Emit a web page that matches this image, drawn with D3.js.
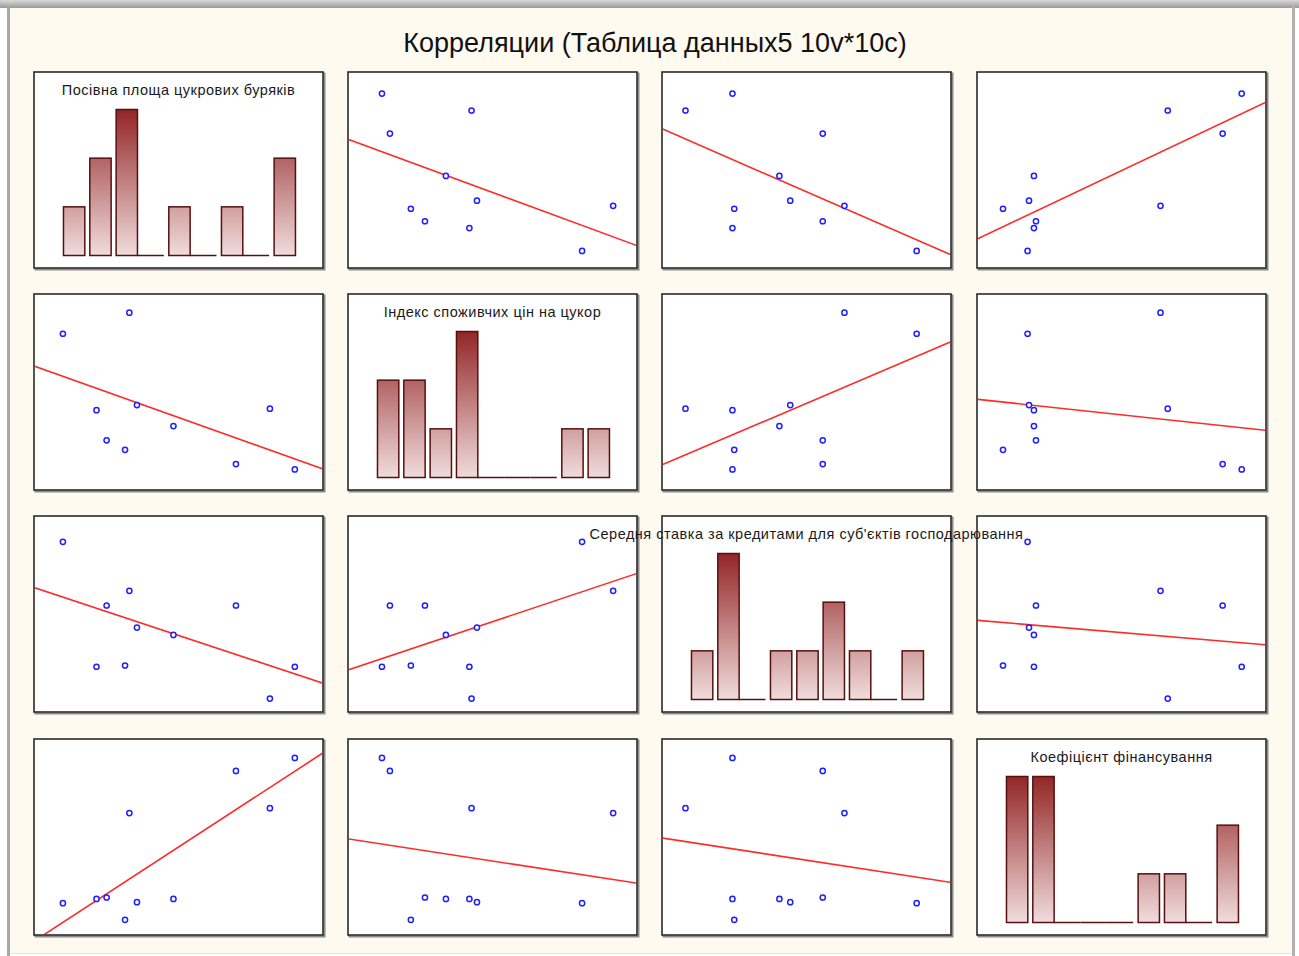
<!DOCTYPE html>
<html>
<head>
<meta charset="utf-8">
<script src="https://cdn.jsdelivr.net/npm/d3@7"></script>
<style>
  html, body { margin: 0; padding: 0; background: #ffffff; }
  svg { display: block; }
</style>
</head>
<body>
<svg id="chart" width="1299" height="956"></svg>
<script>
// ---------------- DATA ----------------
const chartTitle = "Корреляции (Таблица данныx5 10v*10c)";
const varNames = [
  "Посівна площа цукрових буряків",
  "Індекс споживчих цін на цукор",
  "Середня ставка за кредитами для суб'єктів господарювання",
  "Коефіцієнт фінансування"
];
// 10 cases
const sownArea   = [230, 414, 323, 435, 351, 402, 536, 709, 803, 872];
const sugarCPI   = [144.8, 153.4, 113.6, 115.7, 101.3, 97.4, 107.1, 91.6, 114.2, 89.4];
const loanRate   = [24.1, 20.1, 13.9, 17.1, 18.9, 14.0, 16.5, 18.9, 11.3, 13.9];
const financing  = [0.375, 0.835, 0.397, 0.380, 0.404, 0.290, 0.397, 1.050, 0.860, 1.116];
// axis ranges of each variable in the scatter panels
const axisMin = [150, 80, 10, 0.2];
const axisMax = [950, 160, 26, 1.2];
const nBins = 9;

const series = [sownArea, sugarCPI, loanRate, financing];

// ---------------- LAYOUT ----------------
const svg = d3.select("#chart");
const W = 1299, H = 956;
const colLeft = [34, 348, 662, 977];
const rowTop = [72, 294, 516, 739];
const pw = 289, ph = 196;

// frame / background
svg.append("rect").attr("x", 0).attr("y", 0).attr("width", W).attr("height", H).attr("fill", "#ffffff");
const topGrad = svg.append("defs").append("linearGradient").attr("id", "topband")
  .attr("x1", 0).attr("y1", 0).attr("x2", 0).attr("y2", 1);
topGrad.append("stop").attr("offset", "0%").attr("stop-color", "#d9d9d9");
topGrad.append("stop").attr("offset", "100%").attr("stop-color", "#9a9a9a");
svg.append("rect").attr("x", 0).attr("y", 0).attr("width", W).attr("height", 8).attr("fill", "url(#topband)");
svg.append("rect").attr("x", 10).attr("y", 8).attr("width", 1282).attr("height", 945).attr("fill", "#fffaef");
svg.append("rect").attr("x", 7).attr("y", 6).attr("width", 3).attr("height", 950).attr("fill", "#a8a8a8");
svg.append("rect").attr("x", 1292).attr("y", 6).attr("width", 3).attr("height", 950).attr("fill", "#b0b0b0");
svg.append("line").attr("x1", 10).attr("x2", 1292).attr("y1", 953.5).attr("y2", 953.5).attr("stroke", "#e4e4e4");

svg.append("text")
  .attr("x", 655).attr("y", 52)
  .attr("text-anchor", "middle")
  .attr("font-family", "'Liberation Sans', Arial, sans-serif")
  .attr("font-size", 27)
  .attr("fill", "#111")
  .text(chartTitle);

const defs = svg.append("defs");

const panels = svg.append("g");
const labels = svg.append("g");

for (let r = 0; r < 4; r++) {
  for (let c = 0; c < 4; c++) {
    const x0 = colLeft[c], y0 = rowTop[r];
    const g = panels.append("g");
    // shadow + frame
    g.append("rect").attr("x", x0 + 1.5).attr("y", y0 + 1.5).attr("width", pw).attr("height", ph)
      .attr("fill", "none").attr("stroke", "#8a8a8a").attr("stroke-width", 2);
    g.append("rect").attr("x", x0).attr("y", y0).attr("width", pw).attr("height", ph)
      .attr("fill", "#ffffff").attr("stroke", "#2a2a2a").attr("stroke-width", 1.6);

    const clipId = `clip-${r}-${c}`;
    defs.append("clipPath").attr("id", clipId).append("rect")
      .attr("x", x0 + 1).attr("y", y0 + 1).attr("width", pw - 2).attr("height", ph - 2);
    const inner = g.append("g").attr("clip-path", `url(#${clipId})`);

    if (r === c) {
      // histogram
      const vals = series[c];
      const lo = d3.min(vals), hi = d3.max(vals);
      const thr = d3.range(1, nBins).map(i => lo + i * (hi - lo) / nBins);
      const bins = d3.bin().domain([lo, hi]).thresholds(thr)(vals);
      const counts = bins.map(b => b.length);
      const xH = d3.scaleLinear().domain([0, nBins]).range([x0 + 0.102 * pw, x0 + 0.922 * pw]);
      const maxC = d3.max(counts);
      const yH = d3.scaleLinear().domain([0, maxC]).range([y0 + 183.5, y0 + 37.5]);
      const gid = `hg-${c}`;
      const gr = defs.append("linearGradient").attr("id", gid)
        .attr("gradientUnits", "userSpaceOnUse")
        .attr("x1", 0).attr("x2", 0).attr("y1", yH(maxC)).attr("y2", yH(0));
      gr.append("stop").attr("offset", "0%").attr("stop-color", "#932626");
      gr.append("stop").attr("offset", "100%").attr("stop-color", "#f0dcdc");
      const gap = 5;
      counts.forEach((n, i) => {
        if (n > 0) {
          inner.append("rect")
            .attr("x", xH(i)).attr("y", yH(n))
            .attr("width", xH(i + 1) - xH(i) - gap).attr("height", yH(0) - yH(n))
            .attr("fill", `url(#${gid})`)
            .attr("stroke", "#561010").attr("stroke-width", 1.5);
        } else {
          inner.append("line")
            .attr("x1", xH(i) - gap).attr("x2", xH(i + 1) - gap)
            .attr("y1", yH(0)).attr("y2", yH(0))
            .attr("stroke", "#561010").attr("stroke-width", 1.5);
        }
      });
      labels.append("text")
        .attr("x", x0 + pw / 2).attr("y", y0 + 23)
        .attr("text-anchor", "middle")
        .attr("font-family", "'Liberation Sans', Arial, sans-serif")
        .attr("font-size", 14.5)
        .attr("letter-spacing", 0.5)
        .attr("fill", "#1a1a1a")
        .text(varNames[c]);
    } else {
      // scatter: x = column variable, y = row variable
      const xs = series[c], ys = series[r];
      const sx = d3.scaleLinear().domain([axisMin[c], axisMax[c]]).range([x0, x0 + pw]);
      const sy = d3.scaleLinear().domain([axisMin[r], axisMax[r]]).range([y0 + ph + 2.5, y0 + 2.5]);
      const mx = d3.mean(xs), my = d3.mean(ys);
      let sxy = 0, sxx = 0;
      xs.forEach((v, i) => { sxy += (v - mx) * (ys[i] - my); sxx += (v - mx) * (v - mx); });
      const b = sxy / sxx, a = my - b * mx;
      const xa = axisMin[c], xb = axisMax[c];
      inner.append("line")
        .attr("x1", sx(xa)).attr("y1", sy(a + b * xa))
        .attr("x2", sx(xb)).attr("y2", sy(a + b * xb))
        .attr("stroke", "#ff2b2b").attr("stroke-width", 1.6);
      labels.selectAll(null).data(xs.map((v, i) => [v, ys[i]])).enter()
        .append("circle")
        .attr("cx", d => sx(d[0])).attr("cy", d => sy(d[1]))
        .attr("r", 2.6)
        .attr("fill", "#ffffff")
        .attr("stroke", "#1f1fff").attr("stroke-width", 1.5);
    }
  }
}
</script>
</body>
</html>
